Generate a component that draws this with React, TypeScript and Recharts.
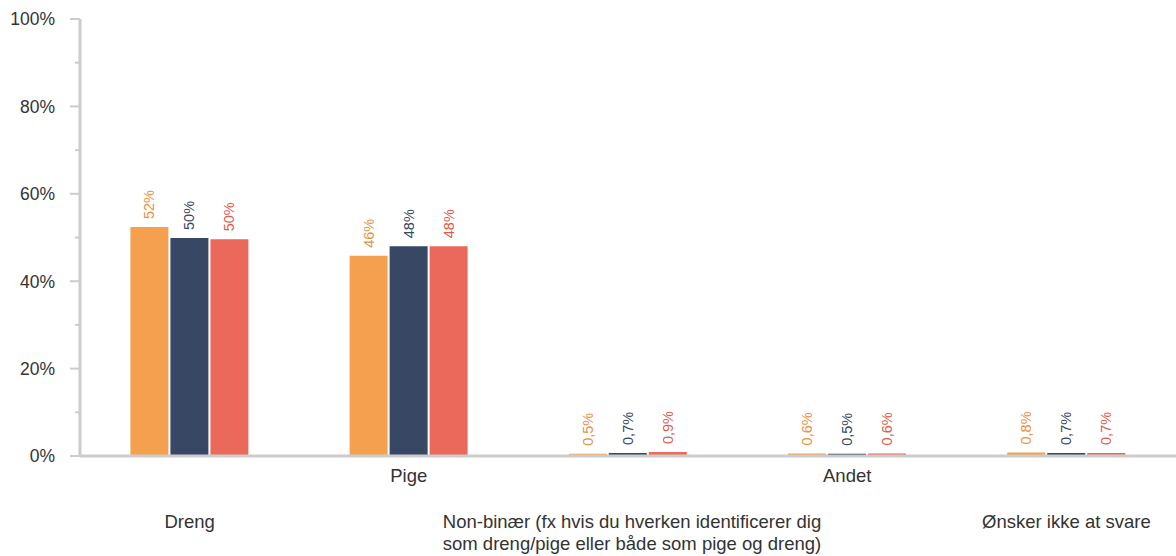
import { BarChart, Bar, XAxis, YAxis, LabelList } from 'recharts';

const FONT = 'Arial, "Liberation Sans", sans-serif';
const AXIS = '#cccccc';
const TEXT = '#333333';

const categories = [
  'Dreng',
  'Pige',
  'Non-binær (fx hvis du hverken identificerer dig som dreng/pige eller både som pige og dreng)',
  'Andet',
  'Ønsker ikke at svare',
];

const seriesA = [52.4, 45.8, 0.5, 0.6, 0.8];
const seriesB = [49.9, 48.0, 0.7, 0.5, 0.7];
const seriesC = [49.6, 48.0, 0.9, 0.6, 0.7];

const yTicks = [0, 10, 20, 30, 40, 50, 60, 70, 80, 90, 100];

const series = [
  { key: 'a', bar: '#F4A04F', label: '#E8913F' },
  { key: 'b', bar: '#374764', label: '#374764' },
  { key: 'c', bar: '#EB695B', label: '#E05A4D' },
];

const data = categories.map((name, i) => ({
  name,
  a: seriesA[i],
  b: seriesB[i],
  c: seriesC[i],
}));

function fmt(v: number) {
  if (v >= 1) return `${Math.round(v)}%`;
  return `${v.toFixed(1).replace('.', ',')}%`;
}

// crude word wrap for the long category
function wrap(text: string, max = 47) {
  const out: string[] = [];
  let line = '';
  for (const w of text.split(' ')) {
    const next = line ? `${line} ${w}` : w;
    if (next.length > max && line) {
      out.push(line);
      line = w;
    } else line = next;
  }
  if (line) out.push(line);
  return out;
}

const YTick = (props: any) => {
  const { x, y, payload } = props;
  const axisX = x + 8;
  const major = payload.value % 20 === 0;
  return (
    <g>
      <line x1={axisX - (major ? 10 : 5)} x2={axisX} y1={y} y2={y} stroke={AXIS} strokeWidth={2} />
      {major && (
        <text x={axisX - 25} y={y} dy="0.36em" textAnchor="end" fill={TEXT} fontSize={17.5} fontFamily={FONT}>
          {`${payload.value}%`}
        </text>
      )}
    </g>
  );
};

const XTick = (props: any) => {
  const { x, y, payload, index } = props;
  const lines = wrap(payload.value);
  const base = y - 8 + (index % 2 === 1 ? 26 : 71.5);
  return (
    <text x={x} y={base} textAnchor="middle" fill={TEXT} fontSize={18.5} fontFamily={FONT}>
      {lines.map((l, i) => (
        <tspan key={i} x={x + (lines.length > 1 ? 4 : 0)} dy={i === 0 ? 0 : 22}>
          {l}
        </tspan>
      ))}
    </text>
  );
};

const makeLabel = (color: string) => (props: any) => {
  const { x, y, width, value } = props;
  const cx = x + width / 2;
  const ty = y - 8;
  return (
    <text
      x={cx}
      y={ty}
      transform={`rotate(-90 ${cx} ${ty})`}
      textAnchor="start"
      dominantBaseline="central"
      fill={color}
      fontSize={14.5}
      fontFamily={FONT}
    >
      {fmt(value)}
    </text>
  );
};

export default function App() {
  return (
    <div style={{ position: 'absolute', left: 0, top: 0, width: 1176, height: 556, background: '#fff' }}>
      <BarChart
        width={1176}
        height={556}
        data={data}
        margin={{ top: 19, right: 0, bottom: 0, left: 0 }}
        barCategoryGap="23%"
        barGap={2}
      >
        <XAxis
          dataKey="name"
          height={100}
          interval={0}
          axisLine={{ stroke: AXIS, strokeWidth: 3 }}
          tickLine={false}
          tickSize={6}
          tickMargin={2}
          tick={<XTick />}
        />
        <YAxis
          width={80}
          domain={[0, 100]}
          ticks={yTicks}
          interval={0}
          axisLine={{ stroke: AXIS, strokeWidth: 3 }}
          tickLine={false}
          tickSize={6}
          tickMargin={2}
          tick={<YTick />}
        />
        {series.map((s) => (
          <Bar key={s.key} dataKey={s.key} fill={s.bar} isAnimationActive={false}>
            <LabelList dataKey={s.key} content={makeLabel(s.label)} />
          </Bar>
        ))}
      </BarChart>
    </div>
  );
}
